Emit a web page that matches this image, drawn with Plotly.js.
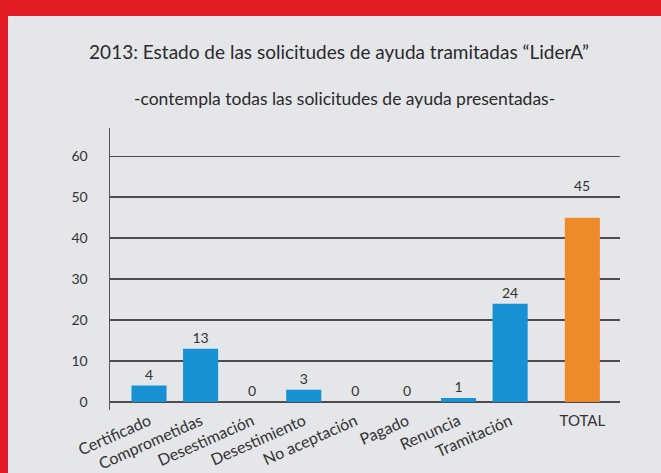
<!DOCTYPE html>
<html>
<head>
<meta charset="utf-8">
<script src="https://cdn.plot.ly/plotly-3.0.1.min.js"></script>
<style>
  html, body { margin: 0; padding: 0; background: #e31d25; width: 661px; height: 473px; overflow: hidden; }
  #chart { position: absolute; left: 8px; top: 16px; width: 653px; height: 457px; }
</style>
</head>
<body>
<div id="chart"></div>
<script>
// Data
const categories = ["Certificado", "Comprometidas", "Desestimación", "Desestimiento", "No aceptación", "Pagado", "Renuncia", "Tramitación"];
const values = [4, 13, 0, 3, 0, 0, 1, 24];
const totalLabel = "TOTAL";
const totalValue = 45;
const yTicks = [0, 10, 20, 30, 40, 50, 60];

const titleText = "2013: Estado de las solicitudes de ayuda tramitadas “LiderA”";
const subtitleText = "-contempla todas las solicitudes de ayuda presentadas-";

const catPos = categories.map((c, i) => i);
const totalPos = categories.length + 0.4;

const fontFam = "Lato, 'Open Sans', sans-serif";
const txtColor = "#333333";
const gridColor = "#4d4d4d";

const traces = [
  {
    type: "bar",
    x: catPos,
    y: values,
    text: values.map(String),
    textposition: "outside",
    cliponaxis: false,
    textfont: { family: fontFam, size: 14, color: txtColor },
    marker: { color: "#1891d4" },
    width: 0.68,
    hoverinfo: "none",
    xaxis: "x",
    yaxis: "y"
  },
  {
    type: "bar",
    x: [totalPos],
    y: [totalValue],
    marker: { color: "#ee8a2a" },
    width: 0.68,
    hoverinfo: "none",
    xaxis: "x2",
    yaxis: "y"
  }
];

const xr = [-0.756, 9.13];

const layout = {
  width: 653,
  height: 457,
  margin: { l: 102, r: 41, t: 112, b: 63 },
  paper_bgcolor: "#e4e6e9",
  plot_bgcolor: "rgba(0,0,0,0)",
  showlegend: false,
  barmode: "overlay",
  font: { family: fontFam, color: txtColor },
  title: {
    text: titleText,
    font: { family: fontFam, size: 19, color: "#2a2a2a", weight: 400 },
    xref: "container", x: 0.507, xanchor: "center",
    yref: "container", y: 0.921, yanchor: "middle"
  },
  annotations: [
    {
      text: subtitleText,
      xref: "paper", yref: "paper",
      x: 0.46, y: 1.106, xanchor: "center", yanchor: "middle",
      showarrow: false,
      font: { family: fontFam, size: 17.5, color: "#2a2a2a", weight: 400 }
    },
    {
      text: String(totalValue),
      xref: "x2", yref: "y",
      x: totalPos, y: totalValue,
      yanchor: "bottom", yshift: 22,
      showarrow: false,
      font: { family: fontFam, size: 14, color: txtColor }
    }
  ],
  xaxis: {
    range: xr,
    tickvals: catPos,
    ticktext: categories,
    tickangle: -24,
    tickfont: { family: fontFam, size: 16, color: txtColor },
    showgrid: false,
    zeroline: false,
    showline: false,
    ticks: "",
    ticklabelstandoff: -2,
    fixedrange: true
  },
  xaxis2: {
    overlaying: "x",
    side: "bottom",
    range: xr,
    tickvals: [totalPos],
    ticktext: [totalLabel],
    tickangle: 0,
    tickfont: { family: fontFam, size: 15, color: txtColor },
    showgrid: false,
    zeroline: false,
    showline: false,
    ticks: "",
    ticklabelstandoff: 0,
    fixedrange: true
  },
  yaxis: {
    range: [-1.96, 66.9],
    tickvals: yTicks,
    ticktext: yTicks.map(String),
    tickfont: { family: fontFam, size: 14, color: txtColor },
    showgrid: true,
    gridcolor: gridColor,
    gridwidth: 1.5,
    zeroline: true,
    zerolinecolor: gridColor,
    zerolinewidth: 1.5,
    showline: true,
    linecolor: "#555555",
    linewidth: 1.5,
    ticks: "",
    ticklabelstandoff: 18,
    fixedrange: true
  }
};

Plotly.newPlot("chart", traces, layout, { displayModeBar: false, staticPlot: true });
</script>
</body>
</html>
